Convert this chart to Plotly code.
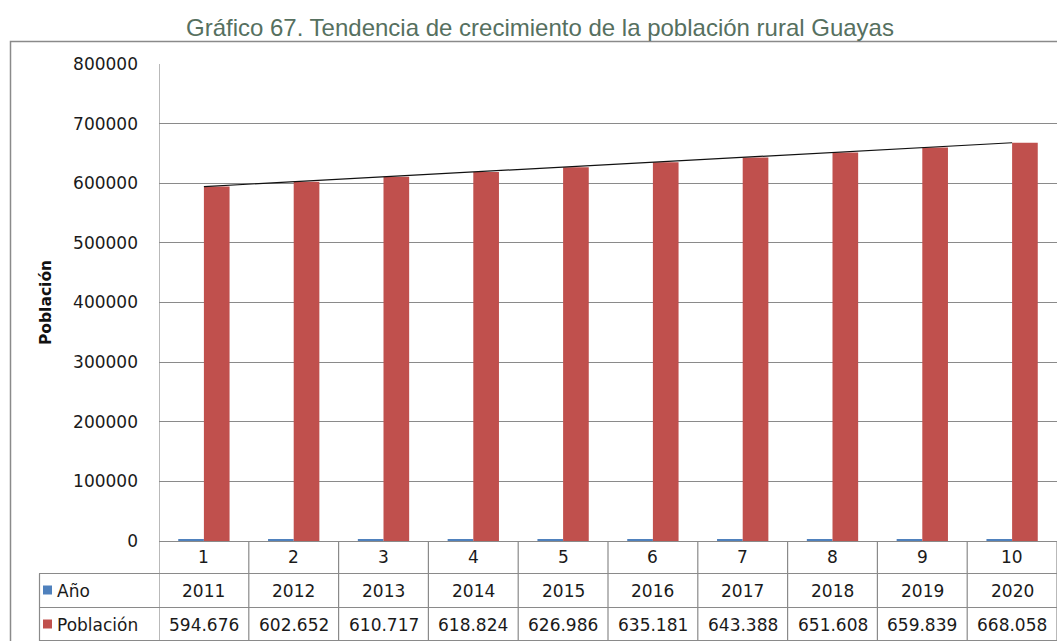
import numpy as np
import plotly.graph_objects as go

# Data
categorias = [1, 2, 3, 4, 5, 6, 7, 8, 9, 10]
anios = [2011, 2012, 2013, 2014, 2015, 2016, 2017, 2018, 2019, 2020]
poblacion = [594676, 602652, 610717, 618824, 626986, 635181, 643388, 651608, 659839, 668058]

AZUL = "#4F81BD"
ROJO = "#C0504D"
GRIS = "#8a8a8a"
FONT = "DejaVu Sans"

W, H = 1057, 641
L, R, T, B = 159, 0, 64, 100
PW, PH = W - L - R, H - T - B


def px_x(px):
    return (px - L) / PW


def px_y(py):
    return (H - B - py) / PH


# Linear trend of the population series
coef = np.polyfit(categorias, poblacion, 1)
tendencia = np.polyval(coef, categorias)

fig = go.Figure()
fig.add_trace(go.Bar(x=categorias, y=anios, name="Año", marker=dict(color=AZUL, line=dict(width=0))))
fig.add_trace(go.Bar(x=categorias, y=poblacion, name="Población", marker=dict(color=ROJO, line=dict(width=0))))
fig.add_trace(go.Scatter(x=categorias, y=tendencia, mode="lines", line=dict(color="#111", width=1.2),
                         showlegend=False, hoverinfo="skip"))

shapes = []
# chart border
shapes.append(dict(type="rect", xref="paper", yref="paper", x0=px_x(10.5), x1=px_x(1200),
                   y0=px_y(41.5), y1=px_y(800), line=dict(color=GRIS, width=1.5), layer="below"))
# plot-area left edge
shapes.append(dict(type="line", xref="x", yref="paper", x0=0.5, x1=0.5, y0=0, y1=1,
                   line=dict(color=GRIS, width=1.2)))
# data table: column separators
for i in range(len(categorias) + 1):
    shapes.append(dict(type="line", xref="x", yref="paper", x0=i + 0.5, x1=i + 0.5,
                       y0=px_y(641), y1=0, line=dict(color=GRIS, width=1.2)))
# data table: row separators
for py in (573.5, 607.5, 640.5):
    shapes.append(dict(type="line", xref="paper", yref="paper", x0=px_x(39), x1=1.0,
                       y0=px_y(py), y1=px_y(py), line=dict(color=GRIS, width=1.2)))
shapes.append(dict(type="line", xref="paper", yref="paper", x0=px_x(39.5), x1=px_x(39.5),
                   y0=px_y(573.5), y1=px_y(641), line=dict(color=GRIS, width=1.2)))
# legend keys inside the table
for color, yc in ((AZUL, 590), (ROJO, 624)):
    shapes.append(dict(type="rect", xref="paper", yref="paper", x0=px_x(43), x1=px_x(52),
                       y0=px_y(yc + 4.5), y1=px_y(yc - 4.5), fillcolor=color, line=dict(width=0)))

annotations = []
tf = dict(family=FONT, size=17, color="#1a1a1a")
for c, a, p in zip(categorias, anios, poblacion):
    annotations.append(dict(x=c, y=px_y(557), xref="x", yref="paper", text=str(c), showarrow=False,
                            font=tf, xanchor="center", yanchor="middle"))
    annotations.append(dict(x=c, y=px_y(591), xref="x", yref="paper", text=str(a), showarrow=False,
                            font=tf, xanchor="center", yanchor="middle"))
    annotations.append(dict(x=c, y=px_y(625), xref="x", yref="paper", text=f"{p:,}".replace(",", "."),
                            showarrow=False, font=tf, xanchor="center", yanchor="middle"))
annotations.append(dict(x=px_x(55), y=px_y(591), xref="paper", yref="paper", text="Año", showarrow=False,
                        font=tf, xanchor="left", yanchor="middle"))
annotations.append(dict(x=px_x(55), y=px_y(625), xref="paper", yref="paper", text="Población", showarrow=False,
                        font=tf, xanchor="left", yanchor="middle"))
# axis title
annotations.append(dict(x=px_x(46), y=px_y(302), xref="paper", yref="paper", text="<b>Población</b>",
                        showarrow=False, textangle=-90, font=dict(family=FONT, size=15.5, color="#111"),
                        xanchor="center", yanchor="middle"))
# chart title
annotations.append(dict(x=px_x(540), y=px_y(27), xref="paper", yref="paper",
                        text="Gráfico 67. Tendencia de crecimiento de la población rural Guayas",
                        showarrow=False, font=dict(family="Liberation Sans", size=24, color="#56705f"),
                        xanchor="center", yanchor="middle"))

fig.update_layout(
    width=W, height=H,
    margin=dict(l=L, r=R, t=T, b=B, pad=0),
    paper_bgcolor="white", plot_bgcolor="white",
    barmode="group", bargap=0.4286, bargroupgap=0,
    showlegend=False,
    shapes=shapes, annotations=annotations,
    xaxis=dict(range=[0.5, 10.5], showticklabels=False, showgrid=False, zeroline=False,
               ticks="", showline=False, fixedrange=True),
    yaxis=dict(range=[0, 800000], dtick=100000, tickformat="d", showgrid=True, gridcolor=GRIS,
               gridwidth=1.2, zeroline=True, zerolinecolor=GRIS, zerolinewidth=1.2,
               showline=False, ticks="", tickfont=dict(family=FONT, size=17, color="#1a1a1a"),
               ticklabelstandoff=20, fixedrange=True),
)

fig.write_html("out.html")
